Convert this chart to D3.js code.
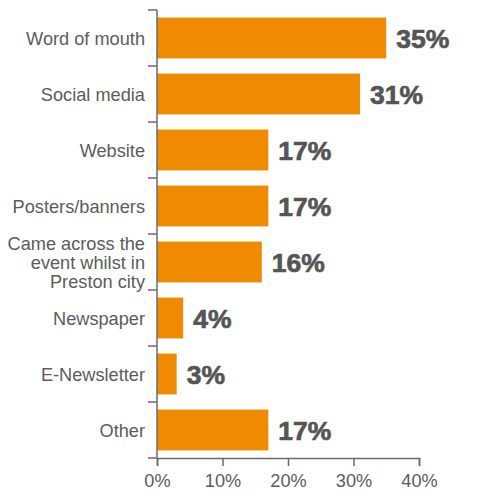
<!DOCTYPE html>
<html>
<head>
<meta charset="utf-8">
<script src="https://cdn.jsdelivr.net/npm/d3@7"></script>
<style>
  html, body { margin: 0; padding: 0; background: #fff; }
  svg { display: block; }
</style>
</head>
<body>
<svg id="chart" width="487" height="491"></svg>
<script>
// How attendees heard about the event
const categories = [
  ["Word of mouth"],
  ["Social media"],
  ["Website"],
  ["Posters/banners"],
  ["Came across the", "event whilst in", "Preston city"],
  ["Newspaper"],
  ["E-Newsletter"],
  ["Other"]
];
const values = [35, 31, 17, 17, 16, 4, 3, 17];
const tickValues = [0, 10, 20, 30, 40];

(function draw() {
  const svg = d3.select("#chart");
  const plotLeft = 157, plotRight = 419, plotTop = 10, plotBottom = 458;
  const axisColor = "#6b6b6b";
  const textColor = "#5c5c5c";
  const barColor = "#f08a00";
  const font = "'Liberation Sans', Arial, Helvetica, sans-serif";

  const keys = categories.map((c, i) => i);
  const y = d3.scaleBand().domain(keys).range([plotTop, plotBottom]).paddingInner(0.27).paddingOuter(0.135);
  const x = d3.scaleLinear().domain([0, 40]).range([plotLeft, plotRight]);

  // Bars
  svg.append("g").selectAll("rect").data(values).join("rect")
    .attr("x", x(0))
    .attr("y", (d, i) => y(i))
    .attr("width", d => x(d) - x(0))
    .attr("height", y.bandwidth())
    .attr("fill", barColor);

  // Value labels
  svg.append("g").selectAll("text").data(values).join("text")
    .attr("x", d => x(d) + 10)
    .attr("y", (d, i) => y(i) + y.bandwidth() / 2)
    .attr("dy", "0.36em")
    .attr("font-family", font)
    .attr("font-weight", "bold")
    .attr("font-size", 26.5)
    .attr("fill", "#555555")
    .attr("stroke", "#555555")
    .attr("stroke-width", 0.7)
    .text(d => d + "%");

  // Y axis: line with ticks at category boundaries
  const step = y.step();
  const bounds = d3.range(categories.length + 1).map(i => plotTop + i * step);
  const yAxis = svg.append("g");
  yAxis.append("line")
    .attr("x1", plotLeft).attr("x2", plotLeft).attr("y1", plotTop).attr("y2", plotBottom)
    .attr("stroke", axisColor).attr("stroke-width", 1.5);
  yAxis.selectAll("line.tick").data(bounds).join("line")
    .attr("class", "tick")
    .attr("x1", plotLeft - 9).attr("x2", plotLeft).attr("y1", d => d).attr("y2", d => d)
    .attr("stroke", axisColor).attr("stroke-width", 1.5);

  // Category labels (multi-line where needed)
  const lineH = 19;
  yAxis.selectAll("text.cat").data(categories).join("text")
    .attr("class", "cat")
    .attr("text-anchor", "end")
    .attr("font-family", font)
    .attr("font-size", 18.2)
    .attr("fill", textColor)
    .each(function(lines, i) {
      const cy = y(i) + y.bandwidth() / 2;
      const start = cy - (lines.length - 1) * lineH / 2;
      d3.select(this).selectAll("tspan").data(lines).join("tspan")
        .attr("x", plotLeft - 12)
        .attr("y", (l, j) => start + j * lineH)
        .attr("dy", "0.36em")
        .text(l => l);
    });

  // X axis
  const xAxis = svg.append("g").attr("transform", `translate(0,${plotBottom})`)
    .call(d3.axisBottom(x).tickValues(tickValues).tickFormat(d => d + "%").tickSize(8).tickPadding(8));
  xAxis.select(".domain").attr("stroke", axisColor).attr("stroke-width", 1.5);
  xAxis.selectAll(".tick line").attr("stroke", axisColor).attr("stroke-width", 1.5);
  xAxis.selectAll(".tick text")
    .attr("font-family", font)
    .attr("font-size", 18.2)
    .attr("fill", textColor);
})();
</script>
</body>
</html>
